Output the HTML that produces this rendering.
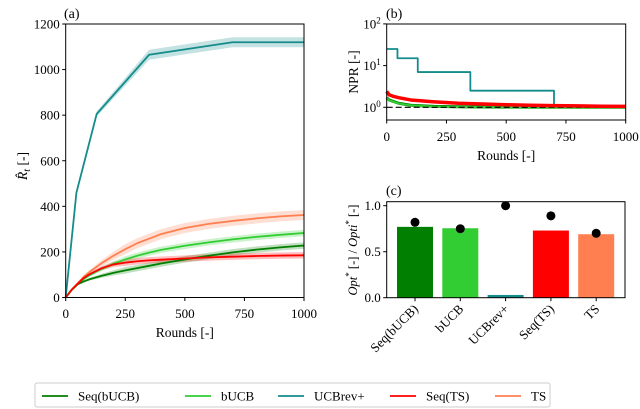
<!DOCTYPE html>
<html><head><meta charset="utf-8">
<style>
html,body{margin:0;padding:0;background:#fff;}
svg{display:block;font-family:"Liberation Serif",serif;}
</style></head>
<body>
<svg id="fig" width="640" height="409" viewBox="0 0 640 409" xmlns="http://www.w3.org/2000/svg"></svg>
<script>
const rounds = [0,25,50,75,100,150,200,250,300,350,400,500,600,700,800,900,1000];
const tsVals = [0,35,62,90,112,150,183,212,238,258,278,305,323,336,347,356,362];
const bucbVals = [0,33,58,80,98,125,148,167,183,197,209,227,242,255,266,275,283];
const seqBucbVals = [0,33,58,70,80,95,108,119,129,139,149,167,183,198,210,220,228];
const seqTsVals = [0,34,60,85,102,128,145,153,159,163,166,171,176,179,182,184,185];
const ucbRounds = [0,45,130,350,700,1000];
const ucbVals = [0,460,805,1065,1120,1120];
const aYTicks = [0,200,400,600,800,1000,1200];
const xTicks = [0,250,500,750,1000];

const nprStepRounds = [0,45,130,350,700,1000];
const nprStepVals = [25,15,7,2.5,1,1];
const nprRounds = [0,10,25,50,100,200,300,400,500,600,700,800,900,1000];
const nprRed = [2.4,2.0,1.85,1.7,1.5,1.35,1.25,1.2,1.15,1.12,1.1,1.08,1.06,1.05];
const nprGreen = [1.7,1.5,1.4,1.25,1.12,1.05,1.03,1.02,1.01,1.0,1.0,1.0,1.0,1.0];
const bYTickExp = [0,1,2];

const barNames = ["Seq(bUCB)","bUCB","UCBrev+","Seq(TS)","TS"];
const barVals = [0.77,0.755,0.03,0.73,0.69];
const dotVals = [0.82,0.75,1.0,0.89,0.70];
const cYTicks = [0.0,0.5,1.0];

const colors = {seqb:"#007f00", bucb:"#32cd32", ucb:"#148c8c", seqts:"#ff0000", ts:"#ff7f50"};
const barColors = [colors.seqb,colors.bucb,colors.ucb,colors.seqts,colors.ts];

const NS="http://www.w3.org/2000/svg";
const svg=document.getElementById('fig');
function el(tag,attrs,parent){const e=document.createElementNS(NS,tag);for(const k in attrs)e.setAttribute(k,attrs[k]);(parent||svg).appendChild(e);return e;}
function txt(s,attrs,parent){const e=el('text',attrs,parent);e.textContent=s;return e;}

// ---- Panel (a)
const ax={l:65.7,r:304,t:24,b:297.5};
const axX=v=>ax.l+(ax.r-ax.l)*v/1000;
const axY=v=>ax.b-(ax.b-ax.t)*v/1200;
const gA=el('g',{});


function band(xs,ys,d,color,name,xf,yf,g){
  const n=xs.length;
  const w=i=>d*Math.min(1,xs[i]/250);
  let p=xs.map((x,i)=>xf(x)+','+yf(ys[i]+w(i))).join(' ');
  for(let i=n-1;i>=0;i--)p+=' '+xf(xs[i])+','+yf(Math.max(0,ys[i]-w(i)));
  const e=el('polygon',{points:p,fill:color,opacity:0.25,stroke:'none'},g);
  
  
}
function line(xs,ys,color,name,xf,yf,g,w){
  const e=el('polyline',{points:xs.map((x,i)=>xf(x)+','+yf(ys[i])).join(' '),fill:'none',stroke:color,'stroke-width':w||1.8,'stroke-linejoin':'round'},g);
  
  
}
band(ucbRounds,ucbVals,22,colors.ucb,'ucbrev-a',axX,axY,gA);
band(rounds,tsVals,22,colors.ts,'ts-a',axX,axY,gA);
band(rounds,bucbVals,14,colors.bucb,'bucb-a',axX,axY,gA);
band(rounds,seqBucbVals,14,colors.seqb,'seq-bucb-a',axX,axY,gA);
band(rounds,seqTsVals,14,colors.seqts,'seq-ts-a',axX,axY,gA);
line(ucbRounds,ucbVals,colors.ucb,'ucbrev-line-a',axX,axY,gA);
line(rounds,tsVals,colors.ts,'ts-line-a',axX,axY,gA);
line(rounds,bucbVals,colors.bucb,'bucb-line-a',axX,axY,gA);
line(rounds,seqBucbVals,colors.seqb,'seq-bucb-line-a',axX,axY,gA);
line(rounds,seqTsVals,colors.seqts,'seq-ts-line-a',axX,axY,gA);
el('rect',{x:ax.l,y:ax.t,width:ax.r-ax.l,height:ax.b-ax.t,fill:'none',stroke:'#000','stroke-width':1},gA);
aYTicks.forEach(v=>{el('line',{x1:ax.l-3.5,x2:ax.l,y1:axY(v),y2:axY(v),stroke:'#000'},gA);
  const t=txt(String(v),{x:ax.l-6,y:axY(v)+4.5,'text-anchor':'end','font-size':13},gA);
  });
xTicks.forEach(v=>{el('line',{x1:axX(v),x2:axX(v),y1:ax.b,y2:ax.b+3.5},gA).setAttribute('stroke','#000');
  const t=txt(String(v),{x:axX(v),y:318,'text-anchor':'middle','font-size':13},gA);
  });
let t=txt('Rounds [-]',{x:(ax.l+ax.r)/2,y:337,'text-anchor':'middle','font-size':13.5},gA);

t=txt('',{x:0,y:0,'font-size':13.5,transform:'translate(27,166) rotate(-90)','text-anchor':'middle'},gA);
t.innerHTML='<tspan font-style="italic">R&#770;</tspan><tspan font-style="italic" font-size="10" dy="3">t</tspan><tspan dy="-3"> [-]</tspan>';

t=txt('(a)',{x:64,y:18,'font-size':14},gA);


// ---- Panel (b)
const bx={l:386.7,r:625.7,t:24,b:120};
const bX=v=>bx.l+(bx.r-bx.l)*v/1000;
const bY=v=>107.3-41.7*Math.log10(v);
const gB=el('g',{});


let sx=[],sy=[];
nprStepRounds.forEach((r,i)=>{if(i>0){sx.push(r);sy.push(nprStepVals[i-1]);}sx.push(r);sy.push(nprStepVals[i]);});
line(sx,sy,colors.ucb,'ucbrev-line-b',bX,bY,gB,1.8);
line(nprRounds,nprGreen,colors.seqb,'seq-bucb-line-b',bX,bY,gB,3);
line(nprRounds,nprGreen.map(v=>v*0.99),colors.bucb,'bucb-line-b',bX,bY,gB,2);
let d=el('line',{x1:bX(0),x2:bX(1000),y1:bY(1),y2:bY(1),stroke:'#000','stroke-dasharray':'6,3','stroke-width':1.2},gB);

line(nprRounds,nprRed,colors.seqts,'seq-ts-line-b',bX,bY,gB,3.5);
el('rect',{x:bx.l,y:bx.t,width:bx.r-bx.l,height:bx.b-bx.t,fill:'none',stroke:'#000'},gB);
bYTickExp.forEach(e=>{el('line',{x1:bx.l-3.5,x2:bx.l,y1:bY(Math.pow(10,e)),y2:bY(Math.pow(10,e)),stroke:'#000'},gB);
  const t=txt('',{x:bx.l-6,y:bY(Math.pow(10,e))+4.5,'text-anchor':'end','font-size':13},gB);
  t.innerHTML='10<tspan font-size="9" dy="-5">'+e+'</tspan>';
  });
xTicks.forEach(v=>{el('line',{x1:bX(v),x2:bX(v),y1:bx.b,y2:bx.b+3.5,stroke:'#000'},gB);
  const t=txt(String(v),{x:bX(v),y:141,'text-anchor':'middle','font-size':13},gB);
  });
t=txt('Rounds [-]',{x:(bx.l+bx.r)/2,y:160,'text-anchor':'middle','font-size':13.5},gB);

t=txt('NPR [-]',{x:0,y:0,'font-size':13.5,'text-anchor':'middle',transform:'translate(358,72) rotate(-90)'},gB);

t=txt('(b)',{x:386,y:18,'font-size':14},gB);


// ---- Panel (c)
const cx={l:386.7,r:625,t:201.7,b:297.7};
const cY=v=>cx.b-(cx.b-205.7)*v/1.0;
const cX=i=>415+i*45.3;
const gC=el('g',{});


barNames.forEach((n,i)=>{
  const r=el('rect',{x:cX(i)-18,y:cY(barVals[i]),width:36,height:cY(0)-cY(barVals[i]),fill:barColors[i]},gC);
  
});
barNames.forEach((n,i)=>{
  const c=el('circle',{cx:cX(i),cy:cY(dotVals[i]),r:4.5,fill:'#000'},gC);
  
  el('line',{x1:cX(i),x2:cX(i),y1:cx.b,y2:cx.b+3.5,stroke:'#000'},gC);
  const t=txt(n,{x:0,y:0,'text-anchor':'end','font-size':13,transform:'translate('+(cX(i)+4)+','+(cx.b+12)+') rotate(-45)'},gC);
  
});
el('rect',{x:cx.l,y:cx.t,width:cx.r-cx.l,height:cx.b-cx.t,fill:'none',stroke:'#000'},gC);
cYTicks.forEach(v=>{el('line',{x1:cx.l-3.5,x2:cx.l,y1:cY(v),y2:cY(v),stroke:'#000'},gC);
  const t=txt(v.toFixed(1),{x:cx.l-6,y:cY(v)+4.5,'text-anchor':'end','font-size':13},gC);
  });
t=txt('',{x:0,y:0,'font-size':12.5,'text-anchor':'middle',transform:'translate(357,250) rotate(-90)'},gC);
t.innerHTML='<tspan font-style="italic">Opt</tspan><tspan font-size="9" dy="-5">*</tspan><tspan dy="5"> [-] / </tspan><tspan font-style="italic">Opti</tspan><tspan font-size="9" dy="-5">*</tspan><tspan dy="5"> [-]</tspan>';

t=txt('(c)',{x:386,y:195,'font-size':14},gC);


// ---- Legend
const gL=el('g',{});


el('rect',{x:35,y:383,width:515,height:24,rx:2,fill:'#fff',stroke:'#ccc','stroke-width':1},gL);
const legX=[42,185,278,390,495];
const legC=[colors.seqb,colors.bucb,colors.ucb,colors.seqts,colors.ts];
barNames.forEach((n,i)=>{
  const g=el('g',{},gL);
  
  
  el('line',{x1:legX[i],x2:legX[i]+26,y1:396,y2:396,stroke:legC[i],'stroke-width':1.8},g);
  txt(n,{x:legX[i]+36,y:400.5,'font-size':13},g);
});
</script>
</body></html>
